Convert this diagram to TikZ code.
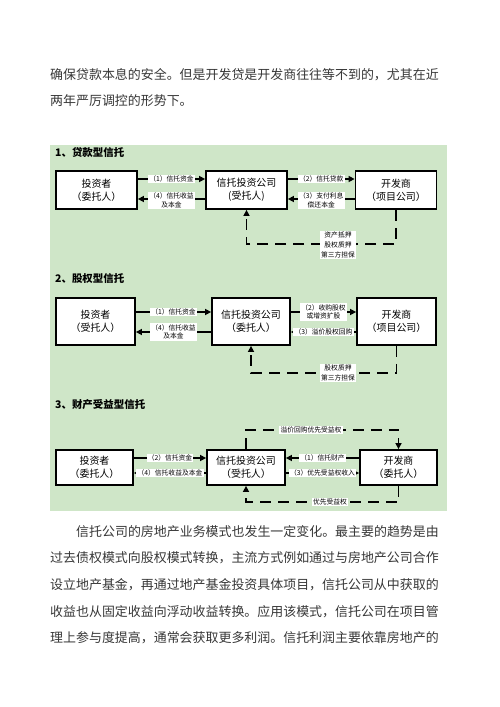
\documentclass[tikz,border=0pt]{standalone}
\usepackage{fontspec}
\newfontfamily\cjk{Noto Sans CJK SC}
\usetikzlibrary{arrows.meta,calc}
\XeTeXlinebreaklocale "zh"
\XeTeXlinebreakskip=0pt plus 2pt
\definecolor{panel}{RGB}{207,230,200}
\definecolor{bodytext}{RGB}{55,55,55}
\begin{document}
\begin{tikzpicture}[x=1bp,y=-1bp,
  box/.style={draw=black,line width=1.8bp,fill=white,minimum width=81bp,minimum height=38bp,align=center,font=\cjk\fontsize{10}{13}\selectfont,inner sep=0},
  arr/.style={line width=1.6bp,-{Triangle[length=6bp,width=6bp]}},
  dsh/.style={line width=1.8bp,dash pattern=on 11bp off 7bp,-{Triangle[length=6bp,width=6bp]}},
  lab/.style={fill=white,inner sep=1.2bp,font=\cjk\fontsize{6.8}{8.5}\selectfont,align=center},
  lab3/.style={fill=white,inner sep=1.2bp,font=\cjk\fontsize{6.8}{10}\selectfont,align=center},
  ttl/.style={font=\cjk\bfseries\fontsize{10.5}{12}\selectfont,anchor=west,inner sep=0},
  para/.style={font=\cjk\fontsize{13}{26}\selectfont,text=bodytext,anchor=west,inner sep=0,text width=398bp,align=justify}]
\fill[white] (0,0) rectangle (500,707);
\useasboundingbox (0,0) rectangle (500,707);
% body text top
\node[para] (p1) at (50,75) {\parfillskip=0pt 确保贷款本息的安全。但是开发贷是开发商往往等不到的，尤其在近};
\node[para,align=left] (p2) at (50,101) {两年严厉调控的形势下。};
% panel
\fill[panel] (50,145) rectangle (447,511);
% ---------- section 1
\node[ttl] (t1) at (55,153) {1、贷款型信托};
\node[box] (a1) at (96.5,190) {投资者\\（委托人）};
\node[box] (a2) at (246.5,190) {信托投资公司\\(受托人)};
\node[box] (a3) at (396,190) {开发商\\（项目公司）};
\draw[arr] ($(a1.east)+(0,-11)$) -- node[lab]{（1）信托资金} ($(a2.west)+(0,-11)$);
\draw[arr] ($(a2.west)+(0,9)$) -- node[lab,yshift=-1.5bp]{（4）信托收益\\及本金} ($(a1.east)+(0,9)$);
\draw[arr] ($(a2.east)+(0,-11)$) -- node[lab]{（2）信托贷款} ($(a3.west)+(0,-11)$);
\draw[arr] ($(a3.west)+(0,9)$) -- node[lab,yshift=-1.5bp]{（3）支付利息\\偿还本金} ($(a2.east)+(0,9)$);
\draw[dsh] (a3.south) -- (a3.south |- 0,244) -| (a2.south);
\node[lab3] (g1) at (338,245) {资产抵押\\股权质押\\第三方担保};
% ---------- section 2
\node[ttl] (t2) at (55,279) {2、股权型信托};
\node[box,minimum width=79bp,minimum height=47bp] (b1) at (95.5,321.5) {投资者\\（受托人）};
\node[box,minimum width=78bp,minimum height=47bp] (b2) at (251,321.5) {信托投资公司\\（委托人）};
\node[box,minimum width=79bp,minimum height=47bp] (b3) at (396.5,321.5) {开发商\\（项目公司）};
\draw[arr] ($(b1.east)+(0,-9.5)$) -- node[lab]{（1）信托资金} ($(b2.west)+(0,-9.5)$);
\draw[arr] ($(b2.west)+(0,10.5)$) -- node[lab]{（4）信托收益\\及本金} ($(b1.east)+(0,10.5)$);
\draw[arr] ($(b2.east)+(0,-9.5)$) -- node[lab]{（2）收购股权\\或增资扩股} ($(b3.west)+(0,-9.5)$);
\draw[arr] ($(b3.west)+(0,10.5)$) -- node[lab]{（3）溢价股权回购} ($(b2.east)+(0,10.5)$);
\draw[dsh] (b3.south) -- (b3.south |- 0,373) -| (b2.south);
\node[lab3] (g2) at (338,373) {股权质押\\第三方担保};
% ---------- section 3
\node[ttl] (t3) at (55,405) {3、财产受益型信托};
\node[box,minimum width=77bp,minimum height=35bp] (c1) at (94.5,467.5) {投资者\\（委托人）};
\node[box,minimum width=78bp,minimum height=35bp] (c2) at (246,467.5) {信托投资公司\\（受托人）};
\node[box,minimum width=77bp,minimum height=35bp] (c3) at (398.5,467.5) {开发商\\（委托人）};
\draw[arr] ($(c1.east)+(0,-9.5)$) -- node[lab]{（2）信托资金} ($(c2.west)+(0,-9.5)$);
\draw[arr] ($(c2.west)+(0,5.5)$) -- node[lab]{（4）信托收益及本金} ($(c1.east)+(0,5.5)$);
\draw[arr] ($(c3.west)+(0,-9.5)$) -- node[lab]{（1）信托财产} ($(c2.east)+(0,-9.5)$);
\draw[arr] ($(c2.east)+(0,5.5)$) -- node[lab]{（3）优先受益权收入} ($(c3.west)+(0,5.5)$);
\draw[dsh] (c2.north) -- (c2.north |- 0,430) -| (c3.north);
\node[lab] (g3) at (311,430) {溢价回购优先受益权};
\draw[dsh] (c3.south) -- (c3.south |- 0,502) -| (c2.south);
\node[lab] (g4) at (330,502) {优先受益权};
% body text bottom
\node[para] (q1) at (50,532) {\parfillskip=0pt \hspace*{26bp}信托公司的房地产业务模式也发生一定变化。最主要的趋势是由};
\node[para] (q2) at (50,558) {\parfillskip=0pt 过去债权模式向股权模式转换，主流方式例如通过与房地产公司合作};
\node[para] (q3) at (50,585) {\parfillskip=0pt 设立地产基金，再通过地产基金投资具体项目，信托公司从中获取的};
\node[para] (q4) at (50,612) {\parfillskip=0pt 收益也从固定收益向浮动收益转换。应用该模式，信托公司在项目管};
\node[para] (q5) at (50,638) {\parfillskip=0pt 理上参与度提高，通常会获取更多利润。信托利润主要依靠房地产的};
\end{tikzpicture}
\end{document}
